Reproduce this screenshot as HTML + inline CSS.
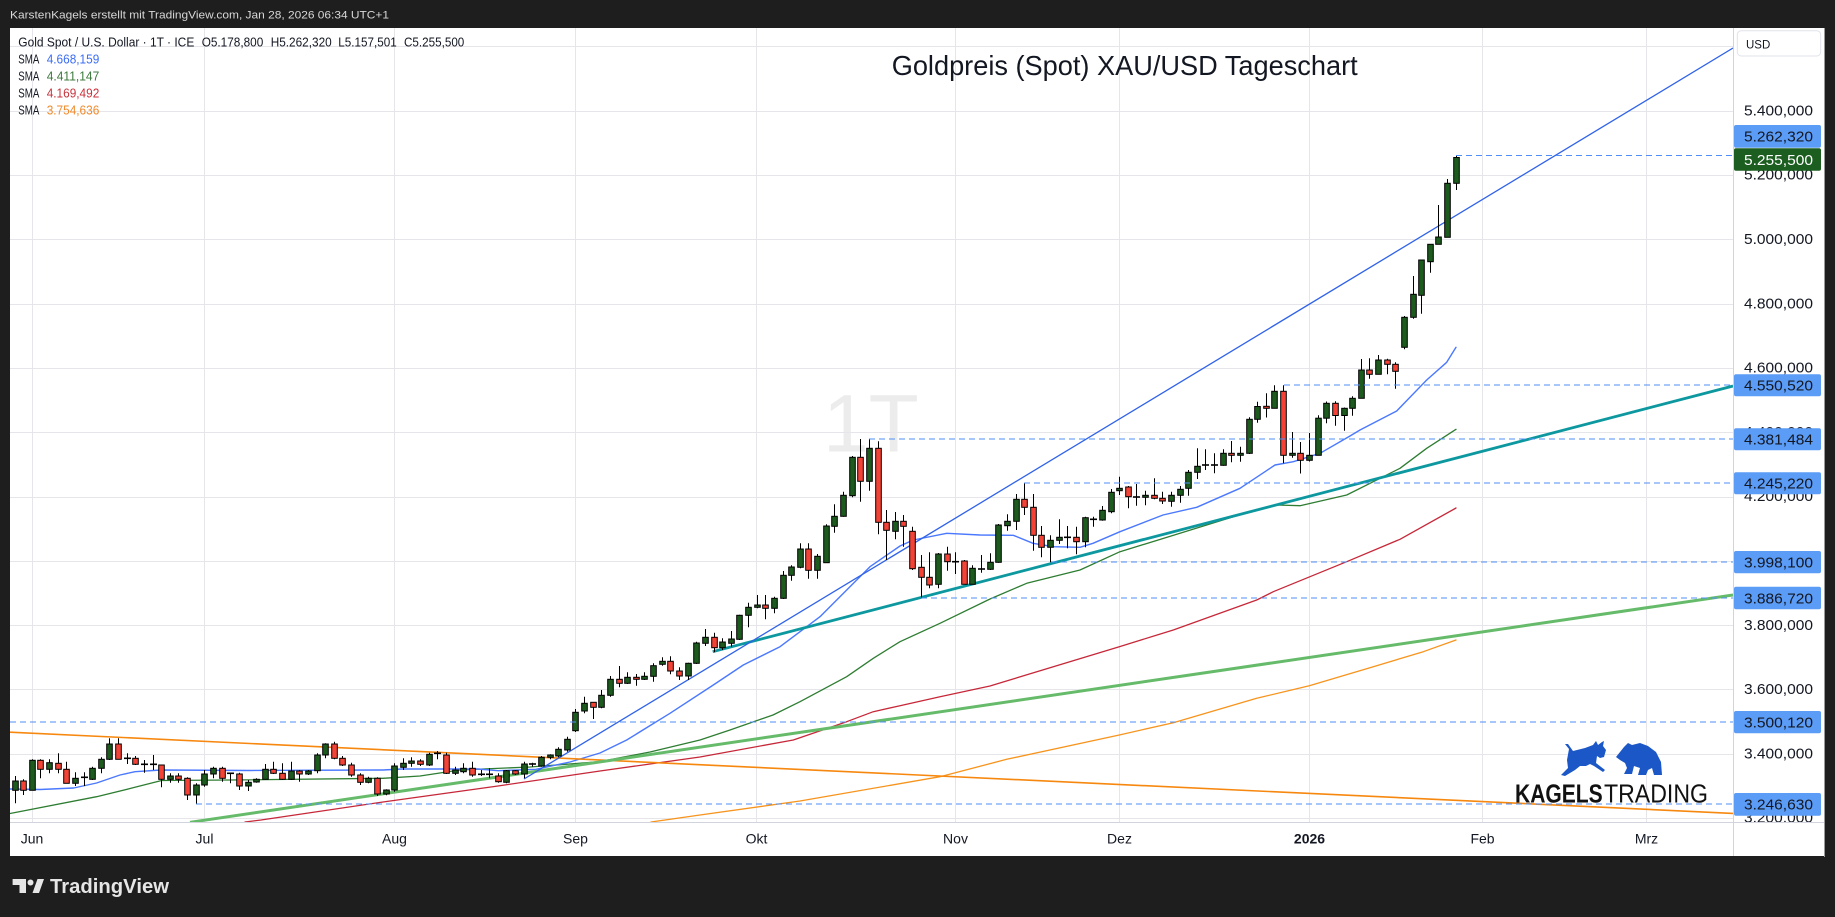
<!DOCTYPE html>
<html><head><meta charset="utf-8">
<style>
html,body{margin:0;padding:0;background:#1e1e1e;overflow:hidden;}
svg{display:block;}
</style></head>
<body>
<svg id="c" width="1835" height="917" xmlns="http://www.w3.org/2000/svg" font-family="'Liberation Sans', Arial, sans-serif">
<defs>
<clipPath id="plot"><rect x="10" y="28" width="1723" height="794"/></clipPath>
<clipPath id="axis"><rect x="1733" y="28" width="91" height="794"/></clipPath>
</defs>
<rect width="1835" height="917" fill="#1e1e1e"/>
<text x="10" y="18.5" font-size="11" fill="#d8d8d8" textLength="379" lengthAdjust="spacingAndGlyphs">KarstenKagels erstellt mit TradingView.com, Jan 28, 2026 06:34 UTC+1</text>
<rect x="10" y="28" width="1814" height="828" fill="#ffffff"/>
<line x1="1824.5" y1="28" x2="1824.5" y2="857" stroke="#9a9a9a" stroke-width="1"/>

<g clip-path="url(#plot)">
  <text x="823" y="451.7" font-size="82" fill="#ececec">1T</text>
  <g stroke="#e6e6ea" stroke-width="1">
    <line x1="32.5" y1="28" x2="32.5" y2="822"/>
    <line x1="204.5" y1="28" x2="204.5" y2="822"/>
    <line x1="394.5" y1="28" x2="394.5" y2="822"/>
    <line x1="575.5" y1="28" x2="575.5" y2="822"/>
    <line x1="756.5" y1="28" x2="756.5" y2="822"/>
    <line x1="955.5" y1="28" x2="955.5" y2="822"/>
    <line x1="1119.5" y1="28" x2="1119.5" y2="822"/>
    <line x1="1309.5" y1="28" x2="1309.5" y2="822"/>
    <line x1="1482.5" y1="28" x2="1482.5" y2="822"/>
    <line x1="1646.5" y1="28" x2="1646.5" y2="822"/>
    <line x1="10" y1="46.5" x2="1733" y2="46.5"/>
    <line x1="10" y1="111.5" x2="1733" y2="111.5"/>
    <line x1="10" y1="175.5" x2="1733" y2="175.5"/>
    <line x1="10" y1="239.5" x2="1733" y2="239.5"/>
    <line x1="10" y1="304.5" x2="1733" y2="304.5"/>
    <line x1="10" y1="368.5" x2="1733" y2="368.5"/>
    <line x1="10" y1="432.5" x2="1733" y2="432.5"/>
    <line x1="10" y1="497.5" x2="1733" y2="497.5"/>
    <line x1="10" y1="561.5" x2="1733" y2="561.5"/>
    <line x1="10" y1="625.5" x2="1733" y2="625.5"/>
    <line x1="10" y1="689.5" x2="1733" y2="689.5"/>
    <line x1="10" y1="754.5" x2="1733" y2="754.5"/>
    <line x1="10" y1="818.5" x2="1733" y2="818.5"/>
  </g>
  <g id="smas" fill="none" stroke-linejoin="round" stroke-linecap="round"></g>
  <g id="trend" fill="none">
    <line x1="10" y1="732.2" x2="1733" y2="813.4" stroke="#f7880f" stroke-width="1.6"/>
    <line x1="190" y1="822.3" x2="1733" y2="595" stroke="#66bb6a" stroke-width="3"/>
    <line x1="712.7" y1="651.7" x2="1733" y2="386" stroke="#0d98a0" stroke-width="2.8"/>
    <line x1="524" y1="779" x2="1733" y2="48" stroke="#2f62e8" stroke-width="1.3"/>
  </g>
  <g id="candles"></g>
  <g stroke="#4f8ff7" stroke-width="1" stroke-dasharray="6 4">
    <line x1="1456" y1="155.5" x2="1733" y2="155.5"/>
    <line x1="1284" y1="385" x2="1733" y2="385"/>
    <line x1="869" y1="439" x2="1733" y2="439"/>
    <line x1="1024" y1="483" x2="1733" y2="483"/>
    <line x1="1051" y1="562" x2="1733" y2="562"/>
    <line x1="921" y1="598" x2="1733" y2="598"/>
    <line x1="10" y1="722" x2="1733" y2="722"/>
    <line x1="196" y1="804" x2="1733" y2="804"/>
  </g>
  <g fill="#1b57c6">
    <polygon points="1569,749 1565,744 1568,744 1573,751 1585,748 1593,745 1596,741 1598,745 1602,742 1604,741 1603,746 1606,750 1604,757 1600,758 1597,756 1596,763 1605,770 1603,772 1594,766 1590,764 1586,766 1580,766 1575,770 1565,776 1561,775 1568,768 1567,760"/>
    <polygon points="1616,757 1620,752 1624,747 1628,743 1632,745 1640,743 1648,746 1656,752 1661,762 1662,775 1654,775 1652,768 1648,770 1646,775 1638,775 1640,768 1634,766 1632,774 1624,774 1627,768 1625,763 1620,760"/>
  </g>
  <text x="1515" y="802.7" font-size="26" font-weight="bold" fill="#111" textLength="87.7" lengthAdjust="spacingAndGlyphs">KAGELS</text>
  <text x="1604" y="802.7" font-size="26" fill="#111" textLength="104" lengthAdjust="spacingAndGlyphs">TRADING</text>
  <text x="891.7" y="75" font-size="28" fill="#131722" textLength="466" lengthAdjust="spacingAndGlyphs">Goldpreis (Spot) XAU/USD Tageschart</text>
</g>

<g font-size="12.5" fill="#131722">
  <text x="18.3" y="46.5" textLength="176" lengthAdjust="spacingAndGlyphs">Gold Spot / U.S. Dollar · 1T · ICE</text>
  <text x="201.7" y="46.5" textLength="61.6" lengthAdjust="spacingAndGlyphs">O5.178,800</text>
  <text x="270.7" y="46.5" textLength="61" lengthAdjust="spacingAndGlyphs">H5.262,320</text>
  <text x="338.3" y="46.5" textLength="58.4" lengthAdjust="spacingAndGlyphs">L5.157,501</text>
  <text x="404" y="46.5" textLength="60.3" lengthAdjust="spacingAndGlyphs">C5.255,500</text>
  <text x="18.3" y="63.3" textLength="21" lengthAdjust="spacingAndGlyphs">SMA</text>
  <text x="46.7" y="63.3" fill="#3b6cf5" textLength="52.6" lengthAdjust="spacingAndGlyphs">4.668,159</text>
  <text x="18.3" y="80.5" textLength="21" lengthAdjust="spacingAndGlyphs">SMA</text>
  <text x="46.7" y="80.5" fill="#3c7a3c" textLength="52.6" lengthAdjust="spacingAndGlyphs">4.411,147</text>
  <text x="18.3" y="97.5" textLength="21" lengthAdjust="spacingAndGlyphs">SMA</text>
  <text x="46.7" y="97.5" fill="#c8323c" textLength="52.6" lengthAdjust="spacingAndGlyphs">4.169,492</text>
  <text x="18.3" y="114.3" textLength="21" lengthAdjust="spacingAndGlyphs">SMA</text>
  <text x="46.7" y="114.3" fill="#f0892a" textLength="52.6" lengthAdjust="spacingAndGlyphs">3.754,636</text>
</g>

<line x1="1733.5" y1="28" x2="1733.5" y2="856" stroke="#d1d4dc" stroke-width="1"/>
<line x1="10" y1="822.5" x2="1824" y2="822.5" stroke="#d1d4dc" stroke-width="1"/>

<g clip-path="url(#axis)" font-size="15" fill="#131722">
  <text x="1744" y="115.4" textLength="69" lengthAdjust="spacingAndGlyphs">5.400,000</text>
  <text x="1744" y="179.7" textLength="69" lengthAdjust="spacingAndGlyphs">5.200,000</text>
  <text x="1744" y="244" textLength="69" lengthAdjust="spacingAndGlyphs">5.000,000</text>
  <text x="1744" y="308.3" textLength="69" lengthAdjust="spacingAndGlyphs">4.800,000</text>
  <text x="1744" y="372.6" textLength="69" lengthAdjust="spacingAndGlyphs">4.600,000</text>
  <text x="1744" y="436.9" textLength="69" lengthAdjust="spacingAndGlyphs">4.400,000</text>
  <text x="1744" y="501.2" textLength="69" lengthAdjust="spacingAndGlyphs">4.200,000</text>
  <text x="1744" y="565.5" textLength="69" lengthAdjust="spacingAndGlyphs">4.000,000</text>
  <text x="1744" y="629.8" textLength="69" lengthAdjust="spacingAndGlyphs">3.800,000</text>
  <text x="1744" y="694.1" textLength="69" lengthAdjust="spacingAndGlyphs">3.600,000</text>
  <text x="1744" y="758.4" textLength="69" lengthAdjust="spacingAndGlyphs">3.400,000</text>
  <text x="1744" y="822.7" textLength="69" lengthAdjust="spacingAndGlyphs">3.200,000</text>

  <rect x="1734" y="125" width="87" height="22.7" rx="2" fill="#5b9cf6"/>
  <text x="1744" y="141.7" textLength="69" lengthAdjust="spacingAndGlyphs">5.262,320</text>
  <rect x="1734" y="148.3" width="87" height="22.4" rx="2" fill="#1b5e20"/>
  <text x="1744" y="164.9" fill="#ffffff" textLength="69" lengthAdjust="spacingAndGlyphs">5.255,500</text>
  <rect x="1734" y="374.3" width="87" height="22" rx="2" fill="#5b9cf6"/>
  <text x="1744" y="390.7" textLength="69" lengthAdjust="spacingAndGlyphs">4.550,520</text>
  <rect x="1734" y="428.3" width="87" height="22" rx="2" fill="#5b9cf6"/>
  <text x="1744" y="444.7" textLength="69" lengthAdjust="spacingAndGlyphs">4.381,484</text>
  <rect x="1734" y="472.3" width="87" height="22" rx="2" fill="#5b9cf6"/>
  <text x="1744" y="488.7" textLength="69" lengthAdjust="spacingAndGlyphs">4.245,220</text>
  <rect x="1734" y="551" width="87" height="22.3" rx="2" fill="#5b9cf6"/>
  <text x="1744" y="567.4" textLength="69" lengthAdjust="spacingAndGlyphs">3.998,100</text>
  <rect x="1734" y="586.7" width="87" height="22.6" rx="2" fill="#5b9cf6"/>
  <text x="1744" y="603.4" textLength="69" lengthAdjust="spacingAndGlyphs">3.886,720</text>
  <rect x="1734" y="711" width="87" height="22.3" rx="2" fill="#5b9cf6"/>
  <text x="1744" y="727.4" textLength="69" lengthAdjust="spacingAndGlyphs">3.500,120</text>
  <rect x="1734" y="793" width="87" height="22.7" rx="2" fill="#5b9cf6"/>
  <text x="1744" y="809.7" textLength="69" lengthAdjust="spacingAndGlyphs">3.246,630</text>
</g>
<rect x="1737.3" y="30.7" width="83.4" height="25.3" rx="4" fill="#ffffff" stroke="#e0e3eb" stroke-width="1"/>
<text x="1746" y="48.3" font-size="11.5" fill="#131722">USD</text>

<g font-size="14" fill="#131722" text-anchor="middle">
  <text x="32" y="843.5">Jun</text>
  <text x="204.5" y="843.5">Jul</text>
  <text x="394.5" y="843.5">Aug</text>
  <text x="575.5" y="843.5">Sep</text>
  <text x="756.5" y="843.5">Okt</text>
  <text x="955.5" y="843.5">Nov</text>
  <text x="1119.5" y="843.5">Dez</text>
  <text x="1309.5" y="843.5" font-weight="bold">2026</text>
  <text x="1482.5" y="843.5">Feb</text>
  <text x="1646.5" y="843.5">Mrz</text>
</g>

<g fill="#e6e6e6">
  <path d="M12.6 879 H26 V893 H19.5 V885 H12.6 Z"/>
  <circle cx="30.5" cy="882.5" r="3"/>
  <polygon points="32.5,893 37.5,879 44,879 39,893"/>
</g>
<text x="50" y="893" font-size="20" font-weight="bold" fill="#e6e6e6" textLength="119" lengthAdjust="spacingAndGlyphs">TradingView</text>
</svg>

<script>
(function(){
var NS='http://www.w3.org/2000/svg';
function el(parent,tag,attrs){var e=document.createElementNS(NS,tag);for(var k in attrs){e.setAttribute(k,attrs[k]);}parent.appendChild(e);return e;}
var X=function(i){return 31.76+i*8.63;};
var C=[
[-2,781,790.3,776,803.3,'g'],[-1,781,790.3,779.3,795,'r'],[0,760.3,790.3,759.3,790.3,'g'],[1,760.3,769.3,759.3,778.3,'r'],
[2,762.7,769.3,759.3,773.3,'g'],[3,763.3,769.3,753.3,773.3,'r'],[4,769.3,783.3,761.7,783.3,'r'],[5,778.3,783.3,772.3,786,'g'],
[6,777.3,777.3,772.3,786,'d'],[7,768.3,779.3,766.7,780,'g'],[8,759.3,768.3,757.3,773.3,'g'],[9,744,759.3,738.3,760,'g'],
[10,744,759.3,738.3,759.3,'r'],[11,758.3,758.3,753.3,764,'d'],[12,758.3,764.3,756,765,'r'],[13,764.3,764.3,760,772.7,'d'],
[14,764.3,764.3,755,770,'d'],[15,765,779.3,765,787.3,'r'],[16,776,779.3,773.3,782.7,'g'],[17,776,779.3,773.3,782.7,'r'],
[18,778.3,795,777.3,800,'r'],[19,785,795,783.3,804,'g'],[20,774,785,770,786.7,'g'],[21,768.3,774,766.7,778.3,'g'],
[22,768.3,778.3,766.7,781.7,'r'],[23,773.3,773.3,772.7,783.3,'d'],[24,774,786,772.7,790,'r'],[25,782.3,786,780,791,'g'],
[26,779.3,782,778.3,782.7,'g'],[27,769.3,779.3,764,779.3,'g'],[28,769.3,773.3,761.7,774,'r'],[29,773.3,779.3,763.3,780,'r'],
[30,771,779.3,761.7,780,'g'],[31,771,774,770,781.7,'r'],[32,771,774,770,775,'g'],[33,755,770.7,753.3,773.3,'g'],
[34,744,755,743.3,758.3,'g'],[35,744,758.3,741.7,759.3,'r'],[36,758.3,765,756,766,'r'],[37,765,775,762.7,776.7,'r'],
[38,775,782.3,773.3,785,'r'],[39,778.3,782.3,776.7,783.3,'g'],[40,778.3,794,777.3,796,'r'],[41,790,794,789.3,795.3,'g'],
[42,766,790,763.3,791.7,'g'],[43,763.3,767.3,758.3,770,'g'],[44,761,763.3,757.3,766.7,'g'],[45,761,764.3,759.3,766,'r'],
[46,754.3,765,752.7,766,'g'],[47,753.3,753.3,751,759.3,'d'],[48,755,773.3,752.7,774,'r'],[49,770,773.3,766.7,775,'g'],
[50,768.3,771.7,763.3,773.3,'g'],[51,768.3,775,761.7,776.7,'r'],[52,774.3,774.3,770,776,'d'],[53,774.3,774.3,768.3,778.3,'d'],
[54,776,781.7,773.3,782.7,'r'],[55,770.7,782.3,770,783.3,'g'],[56,770.7,774,770,775,'r'],[57,764,774,761.7,778.3,'g'],
[58,764,764,762.7,766.7,'d'],[59,757.3,766,756,766.7,'g'],[60,755,757.3,754.3,759.3,'g'],[61,749.3,756,747.3,757.3,'g'],
[62,739.3,750,736.7,751.7,'g'],
[63,712.3,730.7,709,732,'g'],[64,703.3,711,696.7,713.3,'g'],[65,702.3,707.3,702,719,'r'],[66,695.3,707.3,690,708.3,'g'],
[67,679.3,695.3,676,696.7,'g'],[68,679.3,683.3,666,687.3,'r'],[69,677.3,683.3,672.3,684,'g'],[70,677.3,679.3,674,685.7,'r'],
[71,676.3,679.3,672.3,680,'g'],[72,665.7,676.3,663.3,681.7,'g'],[73,661.3,664.3,657.3,665.7,'g'],[74,661.3,671,656.3,674.3,'r'],
[75,671,676,667.3,680,'r'],[76,663.3,676,662.7,680,'g'],[77,643,663.3,641.7,664,'g'],[78,637.3,643.3,629,646,'g'],
[79,637.3,647.7,632.7,652.3,'r'],[80,642,647.7,638.3,650,'g'],[81,639,643.3,631,646.7,'g'],[82,615.3,639.3,614.7,640,'g'],
[83,607.3,615.3,602.7,627.3,'g'],[84,605,607.3,595,608.3,'g'],[85,605,608.3,595,619.3,'r'],[86,598.3,608.3,596.7,613.3,'g'],
[87,575.3,598.3,571,599,'g'],[88,567,575.3,565.3,580.7,'g'],[89,549,567.3,543.3,568.3,'g'],[90,549,570.3,543.3,578.7,'r'],
[91,556.3,570.3,554,578.7,'g'],[92,526,562.7,524.3,562.7,'g'],[93,516.3,526.3,504.3,532.7,'g'],[94,495.3,516.3,491.7,516.7,'g'],
[95,457.3,495.7,456,497.3,'g'],[96,457.3,481.3,439,501.7,'r'],[97,448.3,481.3,439.3,490.7,'g'],[98,448.3,522.3,441.3,534.3,'r'],
[99,522.3,530.3,510,560,'r'],[100,521.3,531.3,512,539.3,'g'],
[101,521.3,526.3,515,546.7,'r'],[102,531.3,568.7,526.7,570,'r'],[103,567.3,577.3,555,597.7,'r'],[104,577.3,585,552.3,588.3,'r'],
[105,554,584.3,553,588.3,'g'],[106,554,561.7,546.7,570.7,'r'],[107,561.7,561.7,552.3,574,'d'],[108,561,584.3,560,584.3,'r'],
[109,568.3,584.3,565.3,584.3,'g'],[110,569,569,555,572.7,'d'],[111,562.3,569.3,553.3,570,'g'],[112,525,562.3,524,562.7,'g'],
[113,521.3,525.7,514.3,530.7,'g'],[114,499.3,521.3,494,530,'g'],[115,499.3,507.3,483.3,515,'r'],[116,507.3,535.3,494,550.7,'r'],
[117,535.3,547.3,526,557.3,'r'],[118,540.3,547.3,535.3,562.3,'g'],[119,537.3,540.3,519.3,544,'g'],[120,537.3,537.3,526,548.3,'d'],
[121,537.3,541.7,526.7,554.3,'r'],[122,517.7,541.7,516.7,547.3,'g'],[123,519.3,519.3,516.7,526.7,'d'],[124,510.3,520,506,520.7,'g'],
[125,492.3,511.7,489,513.3,'g'],[126,488.3,490.7,476.7,495,'g'],[127,487,496.7,486,508.3,'r'],[128,497,497,484,505.7,'d'],
[129,495.3,497.3,490.7,505.3,'g'],[130,495.3,498.3,478.3,499.3,'r'],[131,498.3,501,491.7,504,'r'],[132,495.3,501.3,491.7,506.7,'g'],
[133,489.3,495.3,486,502.7,'g'],[134,472.3,488.3,470,495.7,'g'],[135,466.3,472.3,448.3,479,'g'],[136,465,465,449.3,470,'d'],
[137,465,465,453.3,473.3,'d'],[138,453.3,465.3,449.3,465.7,'g'],[139,453.3,455.3,441,462.3,'r'],[140,453.3,455.3,446.7,461.7,'g'],
[141,419.3,453.3,417.3,454,'g'],[142,406.5,419.3,401.7,422.7,'g'],[143,406.3,408.3,393.3,417.5,'r'],[144,391.3,408.3,385.3,408.3,'g'],
[145,391.3,455.3,385.3,463.3,'r'],[146,453.3,455.3,432,457.7,'g'],[147,453.3,460.3,442,473.5,'r'],[148,455.3,460.3,433,461.5,'g'],
[149,418.2,455.3,415.2,455.5,'g'],[150,403.3,418.2,401.5,423.3,'g'],[151,403.3,415.5,401.3,425.7,'r'],[152,408.3,415.5,407.5,430.7,'g'],
[153,398.3,408.3,396.3,415.8,'g'],[154,370,398.3,359,398.3,'g'],[155,370,374.3,358.3,378.7,'r'],[156,360,374.3,355,374.3,'g'],
[157,360,364.3,358.7,374.3,'r'],[158,364.3,371.3,362.3,388.7,'r'],[159,317.3,347.3,316,349.3,'g'],[160,294.3,317.3,276,318.7,'g'],
[161,260,295.3,260,313.7,'g'],[162,244.3,261.7,244.3,272.7,'g'],[163,237,244.3,205,244.3,'g'],[164,183.3,237.3,179,237.3,'g'],
[165,157.5,183.3,155.4,190,'g']
];
var cg=document.getElementById('candles');
for(var k=0;k<C.length;k++){
  var d=C[k], x=Math.round(X(d[0]))+0.5;
  el(cg,'line',{x1:x,x2:x,y1:d[3],y2:d[4],stroke:'#000','stroke-width':1});
  if(d[5]==='d'){
    el(cg,'line',{x1:x-3.5,x2:x+3.5,y1:d[1],y2:d[1],stroke:'#000','stroke-width':1.6});
  } else {
    var h=Math.max(d[2]-d[1],1.5);
    el(cg,'rect',{x:x-2.8,y:d[1],width:5.6,height:h,fill:(d[5]==='g'?'#1c5a1e':'#f44336'),stroke:'#000','stroke-width':1});
  }
}
var S=[
 ['#f7941d',1.3,[[651,822],[700,815],[800,801],[940,776.7],[1006.7,759.3],[1119.3,735],[1173.3,722.7],[1256.7,698.3],[1309.3,685.7],[1373.3,666.7],[1423.3,651.7],[1456,640]]],
 ['#c62839',1.3,[[245,822],[261,820],[383,802],[498,786],[600,771],[700,757],[793.3,740],[846.7,721.7],[873.3,711.7],[900,705.7],[940,696.7],[990,686],[1119.3,646.7],[1173.3,630],[1256.7,600],[1273.3,591.7],[1346.7,561.7],[1400,539.3],[1456,508]]],
 ['#2e7d32',1.3,[[10,813.5],[96.6,796.7],[131,788.3],[161.6,780.5],[230,780],[383,778.3],[420,776],[459.7,770],[530,767],[600,761.7],[650,752],[700,740],[730,730],[773,715],[800,701.7],[846.7,676.7],[873.3,658.3],[900,641.7],[940,623.3],[990,599],[1026.7,583.3],[1080,570],[1120,551.7],[1180,533.3],[1233.3,516.7],[1276.7,505],[1300,505.7],[1346.7,495],[1373.3,481.7],[1400,468.3],[1426.7,448.3],[1456,429.3]]],
 ['#4a78ff',1.4,[[10,789],[40,789.5],[73.7,788],[96.6,783],[120,775],[135,771.7],[161,770],[250,770.5],[383,770],[402,769],[478,769],[498,770.7],[536,769.3],[570,762],[600,753],[626.7,740],[670,713.3],[713.3,685],[743.3,665],[780,646.7],[820,616.7],[846.7,590],[870,566.7],[900,546],[913.3,540],[946.7,533.3],[980,535],[1013.3,535.3],[1033,543.3],[1053.3,546.7],[1080,547.3],[1093,543.3],[1120,531.7],[1163,515],[1196.7,507.3],[1240,488.3],[1275,465],[1293.3,461.7],[1320,453.3],[1350,436],[1360,430],[1396.7,411],[1426.7,380],[1446.7,362.3],[1456,347.3]]]
];
var sg=document.getElementById('smas');
for(var j=0;j<S.length;j++){
  var p=S[j][2].map(function(q){return q[0]+','+q[1];}).join(' ');
  el(sg,'polyline',{points:p,stroke:S[j][0],'stroke-width':S[j][1]});
}
})();
</script>
</body></html>
